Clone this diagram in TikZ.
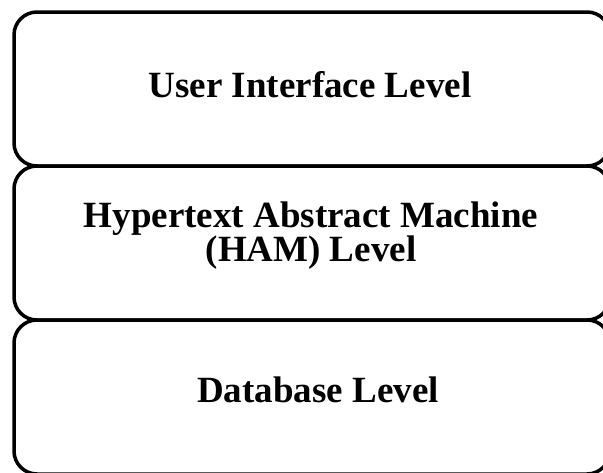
\documentclass[tikz,border=0pt]{standalone}
\usepackage{fontspec}
\setmainfont{Liberation Serif}
\begin{document}
\begin{tikzpicture}[x=1pt,y=-1pt,
  layer/.style={draw=black, line width=3.5pt, rounded corners=23pt,
    minimum width=596pt, minimum height=154pt, inner sep=0pt},
  lbl/.style={font=\fontsize{37}{34}\selectfont\bfseries, align=center,
    inner sep=0pt}]
\useasboundingbox (0,0) rectangle (603,472);
% three stacked layers sharing their edges
\node[layer] (ui)  at (312,89)  {};
\node[layer] (ham) at (312,243) {};
\node[layer] (db)  at (312,397) {};
% layer titles, placed on their (last) baselines
\node[lbl, anchor=base] (uitext)  at (310,97)  {User Interface Level};
\node[lbl, anchor=base] (hamtext) at (311,261) {Hypertext Abstract Machine\\(HAM) Level};
\node[lbl, anchor=base] (dbtext)  at (318,402) {Database Level};
\end{tikzpicture}
\end{document}
